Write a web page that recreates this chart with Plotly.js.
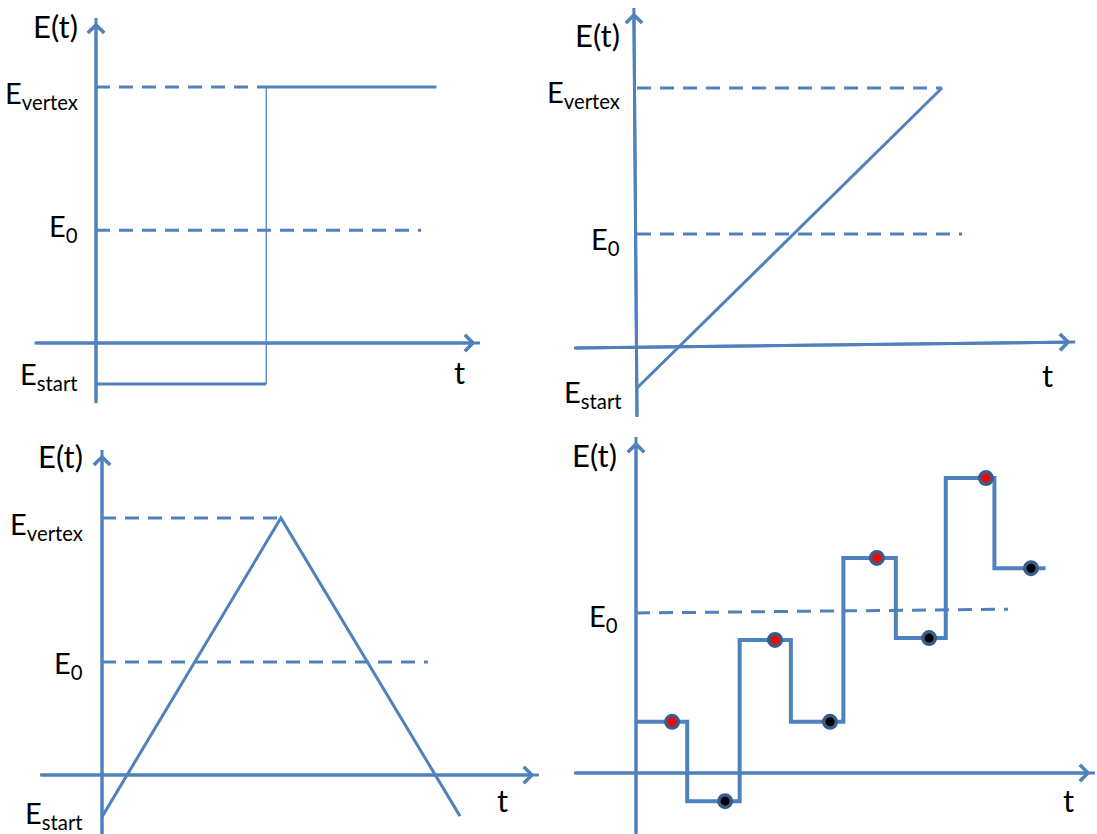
<!DOCTYPE html>
<html>
<head>
<meta charset="utf-8">
<script src="https://cdn.plot.ly/plotly-3.0.1.min.js"></script>
<style>
  html, body { margin: 0; padding: 0; background: #ffffff; }
  #chart { width: 1097px; height: 834px; }
</style>
</head>
<body>
<div id="chart"></div>
<script>
// ---- (a) potential step ----
const stepT = [0, 0.665, 1.33];          // start, step instant, end of record
const stepE = [-0.16, 1.0];              // E_start, E_vertex
const stepE0 = 0.44;
const stepE0End = 1.27;
const stepTAxis = [-0.24, 1.5];
const stepEAxis = [-0.235, 1.27];

// ---- (b) linear sweep ----
const sweepT = [0, 1.173];
const sweepE = [-0.154, 1.0];
const sweepE0 = 0.438;
const sweepE0End = 1.25;
const sweepTAxisT = [-0.242, 1.685];
const sweepTAxisE = [0, 0.023];
const sweepEAxisT = [0, -0.012];
const sweepEAxisE = [-0.265, 1.308];

// ---- (c) cyclic sweep ----
const cycleT = [0, 0.696, 1.393];
const cycleE = [-0.163, 1.0, -0.16];
const cycleE0 = 0.44;
const cycleE0End = 1.268;
const cycleTAxis = [-0.241, 1.70];
const cycleEAxis = [-0.24, 1.265];

// ---- (d) square-wave staircase ----
const pulseEdgesT = [0, 0.2, 0.405, 0.605, 0.81, 1.015, 1.21, 1.40, 1.6];
const forwardE = [0.2, 0.52, 0.84, 1.152];
const reverseE = [-0.11, 0.2, 0.527, 0.80];
const forwardSampleT = [0.141, 0.543, 0.941, 1.367];
const reverseSampleT = [0.348, 0.758, 1.145, 1.543];
const pulseE0T = [0, 1.453];
const pulseE0E = [0.625, 0.64];
const pulseTAxis = [-0.242, 1.793];
const pulseEAxis = [-0.24, 1.3125];

// ---- styling ----
const BLUE = '#4F81BD';
const RIM = '#385D8A';
const FONT = 'Lato, "Open Sans", sans-serif';
const W = 1097, H = 834;

// Map a pixel box with a given origin and pixel-per-unit scale onto axis domains/ranges
function frame(px0, px1, py0, py1, ox, oy, k) {
  const base = { visible: false, showgrid: false, zeroline: false, fixedrange: true };
  return {
    x: Object.assign({}, base, { domain: [px0 / W, px1 / W], range: [(px0 - ox) / k, (px1 - ox) / k] }),
    y: Object.assign({}, base, { domain: [1 - py1 / H, 1 - py0 / H], range: [(oy - py1) / k, (oy - py0) / k] })
  };
}

const fA = frame(0, 554, 0, 417, 96, 343, 256);
const fB = frame(554, 1097, 0, 417, 637, 348, 260);
const fC = frame(0, 554, 417, 834, 102, 775, 257);
const fD = frame(554, 1097, 417, 834, 636, 773, 256);

function seg(ax, x, y, opts) {
  const o = opts || {};
  return {
    type: 'scatter', mode: 'lines', x: x, y: y,
    xaxis: ax[0], yaxis: ax[1], hoverinfo: 'skip',
    line: { color: BLUE, width: o.width || 3, dash: o.dash || 'solid', shape: o.shape || 'linear' }
  };
}
const DASH = '14px,9px';

const A = ['x', 'y'], B = ['x2', 'y2'], C = ['x3', 'y3'], D = ['x4', 'y4'];

// staircase vertices: forward and reverse pulses alternate
const stairE = [];
forwardE.forEach((f, i) => { stairE.push(f, reverseE[i]); });
stairE.push(reverseE[reverseE.length - 1]);

const traces = [
  // (a)
  seg(A, stepTAxis, [0, 0]),
  seg(A, [0, 0], stepEAxis),
  seg(A, [0, stepT[1]], [stepE[1], stepE[1]], { dash: DASH }),
  seg(A, [0, stepE0End], [stepE0, stepE0], { dash: DASH }),
  seg(A, [stepT[0], stepT[1]], [stepE[0], stepE[0]]),
  seg(A, [stepT[1], stepT[1]], [stepE[0], stepE[1]], { width: 1.3 }),
  seg(A, [stepT[1], stepT[2]], [stepE[1], stepE[1]]),
  // (b)
  seg(B, sweepTAxisT, sweepTAxisE),
  seg(B, sweepEAxisT, sweepEAxisE),
  seg(B, [0, sweepT[1]], [sweepE[1], sweepE[1]], { dash: DASH }),
  seg(B, [0, sweepE0End], [sweepE0, sweepE0], { dash: DASH }),
  seg(B, sweepT, sweepE),
  // (c)
  seg(C, cycleTAxis, [0, 0]),
  seg(C, [0, 0], cycleEAxis),
  seg(C, [0, cycleT[1]], [cycleE[1], cycleE[1]], { dash: DASH }),
  seg(C, [0, cycleE0End], [cycleE0, cycleE0], { dash: DASH }),
  seg(C, cycleT, cycleE),
  // (d)
  seg(D, pulseTAxis, [0, 0]),
  seg(D, [0, 0], pulseEAxis),
  seg(D, pulseE0T, pulseE0E, { dash: DASH }),
  seg(D, pulseEdgesT, stairE, { width: 4, shape: 'hv' }),
  {
    type: 'scatter', mode: 'markers', x: forwardSampleT, y: forwardE, xaxis: 'x4', yaxis: 'y4', hoverinfo: 'skip',
    marker: { size: 12.5, color: '#FF0000', line: { color: RIM, width: 3.5 } }
  },
  {
    type: 'scatter', mode: 'markers', x: reverseSampleT, y: reverseE, xaxis: 'x4', yaxis: 'y4', hoverinfo: 'skip',
    marker: { size: 12.5, color: '#000000', line: { color: RIM, width: 3.5 } }
  }
];

// arrow heads at the ends of the axes
function arrow(ax, from, to) {
  return {
    xref: ax[0], yref: ax[1], axref: ax[0], ayref: ax[1],
    x: to[0], y: to[1], ax: from[0], ay: from[1], text: '',
    showarrow: true, arrowhead: 4, arrowsize: 1.05, arrowwidth: 3, arrowcolor: BLUE, standoff: 4.5
  };
}
function label(ax, x, y, text, xa, dx, dy, size) {
  return {
    xref: ax[0], yref: ax[1], x: x, y: y, text: text, showarrow: false,
    xanchor: xa, yanchor: 'middle', xshift: dx, yshift: dy,
    font: { family: FONT, size: size || 29, color: '#000' }
  };
}

const annotations = [
  arrow(A, [stepTAxis[0], 0], [stepTAxis[1], 0]),
  arrow(A, [0, stepEAxis[0]], [0, stepEAxis[1]]),
  arrow(B, [sweepTAxisT[0], sweepTAxisE[0]], [sweepTAxisT[1], sweepTAxisE[1]]),
  arrow(B, [sweepEAxisT[0], sweepEAxisE[0]], [sweepEAxisT[1], sweepEAxisE[1]]),
  arrow(C, [cycleTAxis[0], 0], [cycleTAxis[1], 0]),
  arrow(C, [0, cycleEAxis[0]], [0, cycleEAxis[1]]),
  arrow(D, [pulseTAxis[0], 0], [pulseTAxis[1], 0]),
  arrow(D, [0, pulseEAxis[0]], [0, pulseEAxis[1]]),

  // (a) labels
  label(A, 0, stepEAxis[1], 'E(t)', 'right', -16, -8, 31),
  label(A, 0, stepE[1], 'E<sub>vertex</sub>', 'right', -16, -7),
  label(A, 0, stepE0, 'E<sub>0</sub>', 'right', -16, 3),
  label(A, 0, stepE[0], 'E<sub>start</sub>', 'right', -16, 8),
  label(A, stepTAxis[1], 0, 't', 'center', -21, -29, 31),
  // (b) labels
  label(B, 0, sweepEAxisE[1], 'E(t)', 'right', -15, -27, 31),
  label(B, 0, sweepE[1], 'E<sub>vertex</sub>', 'right', -15, -5),
  label(B, 0, sweepE0, 'E<sub>0</sub>', 'right', -15, -6),
  label(B, 0, sweepE[0], 'E<sub>start</sub>', 'right', -13, -5),
  label(B, sweepTAxisT[1], sweepTAxisE[1], 't', 'center', -28, -33, 31),
  // (c) labels
  label(C, 0, cycleEAxis[1], 'E(t)', 'right', -17, -6, 31),
  label(C, 0, cycleE[1], 'E<sub>vertex</sub>', 'right', -17, -7),
  label(C, 0, cycleE0, 'E<sub>0</sub>', 'right', -17, -3),
  label(C, 0, cycleE[0], 'E<sub>start</sub>', 'right', -17, 2),
  label(C, cycleTAxis[1], 0, 't', 'center', -36, -25, 31),
  // (d) labels
  label(D, 0, pulseEAxis[1], 'E(t)', 'right', -17, -18, 31),
  label(D, 0, pulseE0E[0], 'E<sub>0</sub>', 'right', -16, -4),
  label(D, pulseTAxis[1], 0, 't', 'center', -27, -27, 31)
];

const layout = {
  width: W, height: H,
  margin: { l: 0, r: 0, t: 0, b: 0, pad: 0 },
  paper_bgcolor: '#ffffff', plot_bgcolor: 'rgba(0,0,0,0)',
  showlegend: false,
  font: { family: FONT, size: 29, color: '#000' },
  xaxis: Object.assign({ anchor: 'y' }, fA.x), yaxis: Object.assign({ anchor: 'x' }, fA.y),
  xaxis2: Object.assign({ anchor: 'y2' }, fB.x), yaxis2: Object.assign({ anchor: 'x2' }, fB.y),
  xaxis3: Object.assign({ anchor: 'y3' }, fC.x), yaxis3: Object.assign({ anchor: 'x3' }, fC.y),
  xaxis4: Object.assign({ anchor: 'y4' }, fD.x), yaxis4: Object.assign({ anchor: 'x4' }, fD.y),
  annotations: annotations
};

Plotly.newPlot('chart', traces, layout, { staticPlot: true, displayModeBar: false });
</script>
</body>
</html>
